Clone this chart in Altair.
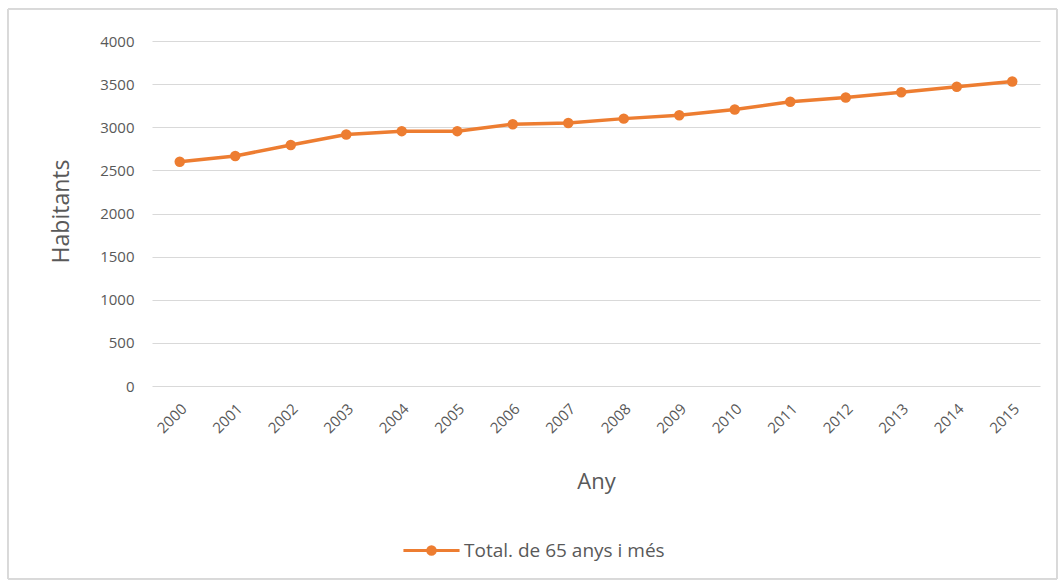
import altair as alt
import pandas as pd

# Population aged 65 and over, by year
years = [str(y) for y in range(2000, 2016)]
habitants = [2600, 2667, 2795, 2915, 2955, 2955, 3035, 3050,
             3100, 3140, 3205, 3295, 3345, 3405, 3470, 3530]
series_name = "Total. de 65 anys i més"

orange = "#ED7D31"
grey_text = "#595959"
font = "Open Sans"

df = pd.DataFrame({"Any": years, "Habitants": habitants, "serie": series_name})

W, H = 888, 345
PAD_L, PAD_T = 152, 41

x_enc = alt.X(
    "Any:N",
    sort=years,
    title="Any",
    scale=alt.Scale(paddingInner=1, paddingOuter=0.5),
    axis=alt.Axis(
        labelAngle=-45,
        labelAlign="right",
        labelBaseline="middle",
        labelPadding=20,
        labelOffset=4,
        labelFontSize=15,
        labelColor=grey_text,
        ticks=False,
        domain=False,
        grid=False,
        titleFontSize=22,
        titleFontWeight="normal",
        titleColor=grey_text,
        titleY=95,
        titleBaseline="middle",
    ),
)
y_enc = alt.Y(
    "Habitants:Q",
    title="Habitants",
    scale=alt.Scale(domain=[0, 4000], nice=False),
    axis=alt.Axis(
        values=list(range(0, 4001, 500)),
        format="d",
        labelFontSize=15,
        labelColor=grey_text,
        labelPadding=18,
        ticks=False,
        domain=False,
        gridColor="#d9d9d9",
        gridWidth=1,
        titleFontSize=23,
        titleFontWeight="normal",
        titleColor=grey_text,
        titleX=-91,
        titleY=170,
        titleAngle=-90,
        titleBaseline="middle",
        titleAlign="center",
    ),
)

color_enc = alt.Color(
    "serie:N",
    scale=alt.Scale(domain=[series_name], range=[orange]),
    legend=alt.Legend(
        title=None,
        orient="none",
        legendX=259,
        legendY=489,
        symbolType="M-1.5,0L1.5,0M-0.2,0a0.2,0.2 0 1,0 0.4,0a0.2,0.2 0 1,0 -0.4,0",
        symbolSize=1400,
        symbolStrokeWidth=3,
        symbolFillColor=orange,
        symbolStrokeColor=orange,
        labelFontSize=19,
        labelLimit=500,
        labelColor=grey_text,
        labelOffset=12,
    ),
)

# Thin frame around the whole chart area
frame = alt.Chart(df).mark_rect(
    fill=None, stroke="#d9d9d9", strokeWidth=1, clip=False
).encode(
    x=alt.value(8 - PAD_L),
    x2=alt.value(1057 - PAD_L),
    y=alt.value(9 - PAD_T),
    y2=alt.value(579 - PAD_T),
)

line = alt.Chart(df).mark_line(strokeWidth=3.5).encode(
    x=x_enc, y=y_enc, color=color_enc
)
points = alt.Chart(df).mark_point(filled=True, size=110, opacity=1).encode(
    x=x_enc, y=y_enc, color=color_enc
)

chart = (
    alt.layer(frame, line, points)
    .properties(
        width=W,
        height=H,
        autosize=alt.AutoSizeParams(type="none"),
        padding={"left": PAD_L, "top": PAD_T, "right": 1059 - PAD_L - W, "bottom": 583 - PAD_T - H},
    )
    .configure(font=font, background="white")
    .configure_view(stroke=None)
)

chart.save("out.html", embed_options={"renderer": "svg", "actions": False})
